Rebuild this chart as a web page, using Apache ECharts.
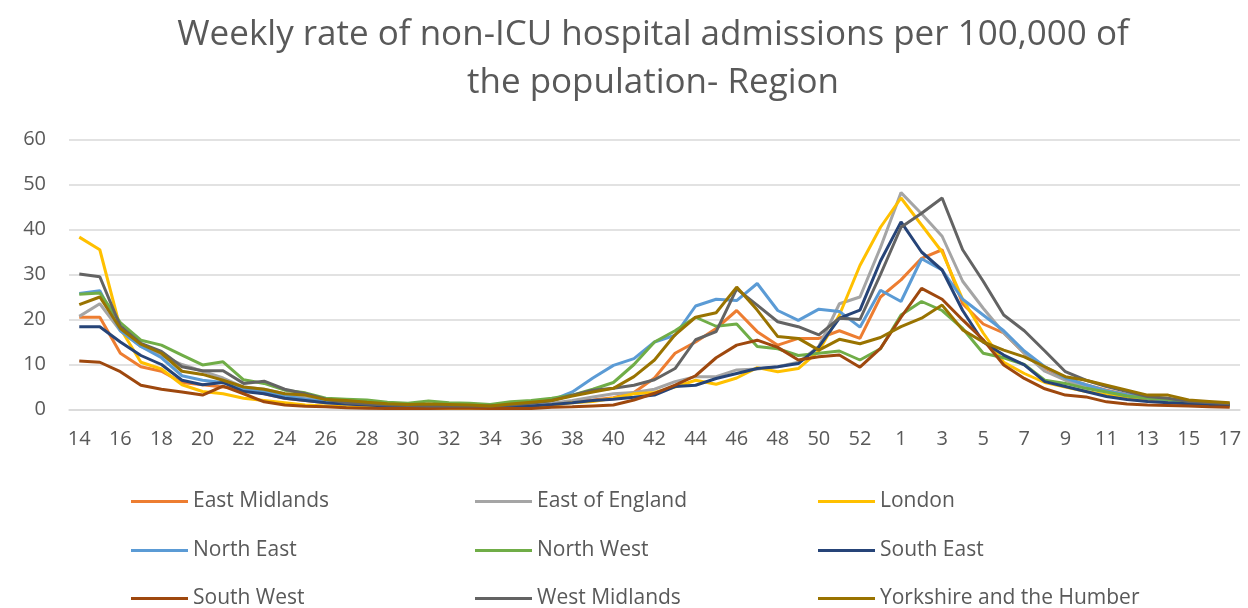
<!DOCTYPE html>
<html>
<head>
<meta charset="utf-8">
<title>Weekly rate of non-ICU hospital admissions</title>
<script src="https://cdn.jsdelivr.net/npm/echarts@6/dist/echarts.min.js"></script>
<style>
  html, body { margin: 0; padding: 0; background: #fff; }
  #chart { width: 1248px; height: 608px; }
</style>
</head>
<body>
<div id="chart"></div>
<script>
// week numbers: 14..53 of 2020, then 1..17 of 2021
var weeks = ['14','15','16','17','18','19','20','21','22','23','24','25','26','27','28','29','30','31','32','33',
  '34','35','36','37','38','39','40','41','42','43','44','45','46','47','48','49','50','51','52','53',
  '1','2','3','4','5','6','7','8','9','10','11','12','13','14','15','16','17'];

var eastMidlands = [20.5,20.5,12.5,9.5,8.5,6,5.5,5,4.5,3.5,2.5,2,1.5,1.2,1,0.8,0.6,0.6,0.6,0.5,
  0.5,0.6,0.7,1,1.7,2.1,2.6,3.8,7,12.5,15,18,22,17.3,14.3,15.8,15.8,17.5,15.8,25,
  28.8,33.6,35.5,23.5,19,17,12.5,9.2,6.9,5.5,4.3,3.3,2.5,2,1.5,1.2,1];
var eastOfEngland = [20.7,23.5,17.5,14,12,10,8.5,7,5,4.5,3.5,2.8,2.2,1.7,1.4,1.1,0.9,0.9,0.9,0.8,
  0.7,0.8,1,1.4,2,2.8,3.5,3.8,4.5,6.2,7.3,7.3,8.8,9,9.5,10.5,14,23.5,25,36,
  48.2,43.5,38.5,28.5,22.5,17,12.5,8.5,6.5,5,4,3,2.3,2,1.5,1.2,1];
var london = [38.3,35.5,18,10.5,9,5.5,4,3.5,2.5,2,1.5,1,0.8,0.6,0.5,0.4,0.3,0.3,0.3,0.3,
  0.3,0.4,0.6,1,1.5,1.8,2.5,3.5,3.8,5,6.5,5.6,7,9.3,8.4,9.1,13,21,32,40.5,
  47,41,35,24.5,17,10.5,8,6,5,4,3.3,2.5,2,1.7,1.3,1,0.8];
var northEast = [25.8,26.4,17.5,14,11.5,7.5,6.5,6,4.5,4,3,2.3,1.8,1.4,1.2,1,0.8,0.2,0.8,0.8,
  0.7,1,1.4,2.1,3.9,7,9.8,11.3,15,16.5,23,24.5,24.2,28,22,19.8,22.3,21.8,18.3,26.5,
  24,33.5,31,24.5,21,17.5,13,9.5,7,5.5,4.2,3.3,2.5,2.1,1.7,1.3,1.1];
var northWest = [25.6,25.9,19.3,15.4,14.3,12.1,9.9,10.6,6.6,5.8,4.3,3.7,2.5,2.3,2.1,1.6,1.4,1.9,1.5,1.4,
  1.1,1.7,2,2.5,3.2,4.5,6,10,15,17.5,20.5,18.5,19,14,13.5,12,12.5,13,11,13.5,
  21,24,22,18,12.5,11.5,10,6.5,5.8,4.7,3.9,3,2.5,2.2,1.7,1.3,1.1];
var southEast = [18.4,18.4,15,12,10,6.5,5.5,6,4,3.5,2.5,2,1.5,1.2,1,0.8,0.6,0.5,0.5,0.5,
  0.5,0.6,0.8,1.1,1.5,2,2.3,2.7,3.2,5.1,5.4,6.9,8,9.1,9.5,10.2,13.9,20.3,22.1,33,
  41.7,35,31,22,15,12.1,9.9,6.2,5.1,4,2.9,2.2,1.8,1.5,1.3,1.1,1];
var southWest = [10.8,10.5,8.4,5.4,4.5,3.9,3.2,5.2,3.5,1.7,1,0.7,0.6,0.4,0.3,0.2,0.2,0.2,0.3,0.3,
  0.2,0.2,0.2,0.5,0.6,0.8,1,2.1,3.6,5.4,7.5,11.5,14.3,15.4,13.8,11,11.7,12.1,9.4,13.6,
  20.5,26.9,24.5,19.9,15.5,9.9,6.9,4.6,3.2,2.8,1.7,1.2,1,0.9,0.8,0.6,0.5];
var westMidlands = [30.1,29.5,18.5,14.7,12.9,9.5,8.6,8.6,5.8,6.3,4.5,3.5,2.3,1.5,1.2,1,0.9,0.8,0.8,0.8,
  0.8,1,1.4,2,3.2,4.3,4.7,5.4,6.6,9.1,15.5,17.3,26.8,23.2,19.5,18.4,16.6,20.3,20,30,
  40.5,43.6,47,35.5,28.5,21,17.5,13,8.4,6.5,5.1,4,2.9,2.5,1.8,1.5,1.3];
var yorkshire = [23.3,25,18,14.5,12.5,8.5,7.8,6.5,5,4.5,3.5,3.2,2.2,2,1.6,1.3,1.1,1.2,1.1,1,
  0.8,1.2,1.6,2,3,3.9,4.7,7.3,11,16.6,20.5,21.5,27.2,22.1,16.2,15.8,13.2,15.6,14.6,16,
  18.4,20.3,23.2,17.7,15,13.2,11.7,9.5,7.3,6.5,5.4,4.3,3.2,3.2,2.1,1.8,1.5];

var regionNames = ['East Midlands','East of England','London','North East','North West',
  'South East','South West','West Midlands','Yorkshire and the Humber'];
var regionData = [eastMidlands, eastOfEngland, london, northEast, northWest,
  southEast, southWest, westMidlands, yorkshire];
var regionColors = ['#ED7D31','#A5A5A5','#FFC000','#5B9BD5','#70AD47',
  '#264478','#9E480E','#636363','#997300'];

var font = 'Open Sans';
var textGray = '#595959';

var series = regionNames.map(function (name, i) {
  return {
    name: name,
    type: 'line',
    data: regionData[i],
    symbol: 'none',
    color: regionColors[i],
    lineStyle: { width: 3, color: regionColors[i] }
  };
});

// legend: 3 columns x 3 rows, one legend per entry so nothing wraps
var legendLeft = [131, 475, 818];
var legendRowMid = [500, 549, 597];
var legends = regionNames.map(function (name, i) {
  return {
    left: legendLeft[i % 3],
    top: legendRowMid[Math.floor(i / 3)] - 9,
    padding: 0,
    icon: 'rect',
    itemWidth: 57,
    itemHeight: 3,
    data: [name],
    textStyle: { fontFamily: font, fontSize: 21, color: textGray, lineHeight: 18 }
  };
});

var option = {
  animation: false,
  title: {
    text: 'Weekly rate of non-ICU hospital admissions per 100,000 of\nthe population- Region',
    left: 648,
    top: 6,
    textAlign: 'center',
    textStyle: { fontFamily: font, fontSize: 35, fontWeight: 'normal', color: textGray, lineHeight: 48 }
  },
  legend: legends,
  grid: { left: 69, right: 8, top: 139.5, bottom: 198.5 },
  xAxis: {
    type: 'category',
    data: weeks,
    boundaryGap: true,
    axisLine: { lineStyle: { color: '#d9d9d9', width: 1.5 } },
    axisTick: { show: false },
    axisLabel: { interval: 1, margin: 20, fontFamily: font, fontSize: 20, color: textGray }
  },
  yAxis: {
    type: 'value',
    min: 0,
    max: 60,
    interval: 10,
    axisLine: { show: false },
    axisTick: { show: false },
    splitLine: { lineStyle: { color: '#d9d9d9', width: 1.5 } },
    axisLabel: { margin: 23, fontFamily: font, fontSize: 20, color: textGray }
  },
  series: series
};

var chart = echarts.init(document.getElementById('chart'));
chart.setOption(option);
</script>
</body>
</html>
